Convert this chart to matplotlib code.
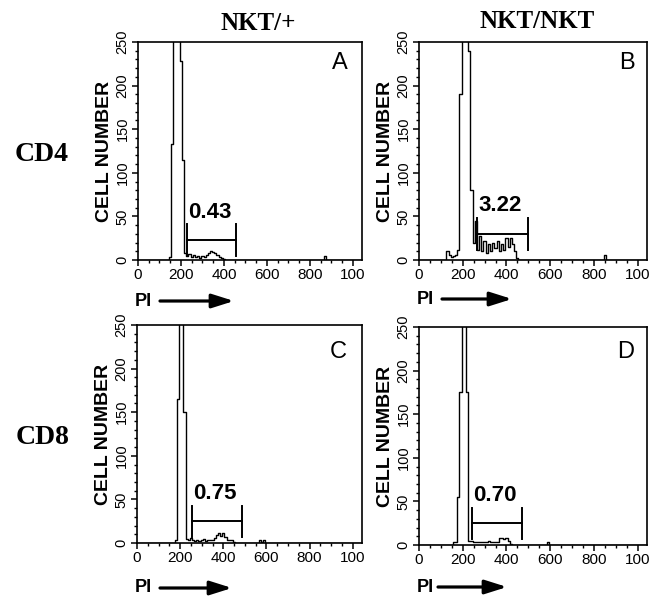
import numpy as np
import matplotlib
matplotlib.use("Agg")
import matplotlib.pyplot as plt
from matplotlib.ticker import MultipleLocator, FixedLocator, FixedFormatter

plt.rcParams['font.family'] = ['Liberation Sans', 'DejaVu Sans']

# ---- data (PI channel bins, cell counts) ----
pi_A = [140, 150, 160, 170, 180, 190, 200, 210, 220, 230, 240, 250, 260, 270, 280, 290, 300,
        310, 320, 330, 340, 350, 360, 370, 380, 390, 400, 410, 860, 870, 880]
count_A = [0, 4, 133, 400, 400, 400, 228, 115, 8, 5, 7, 4, 6, 3, 5, 2, 5,
           3, 6, 8, 10, 9, 8, 6, 3, 2, 1, 0, 0, 5, 0]

pi_B = [110, 120, 130, 140, 150, 160, 170, 180, 190, 200, 210, 220, 230, 240, 250, 260, 270,
        280, 290, 300, 310, 320, 330, 340, 350, 360, 370, 380, 390, 400, 410, 420, 430, 440,
        450, 460, 840, 850, 860]
count_B = [0, 0, 10, 6, 4, 5, 6, 12, 190, 400, 400, 400, 240, 80, 20, 45, 12,
           28, 10, 22, 8, 18, 10, 20, 14, 22, 10, 18, 12, 25, 15, 25, 18, 10,
           2, 0, 0, 6, 0]

pi_C = [170, 180, 190, 200, 210, 220, 230, 240, 250, 260, 270, 280, 290, 300, 310, 320, 330,
        340, 350, 360, 370, 380, 390, 400, 410, 420, 430, 440, 450, 460, 560, 570, 580, 590, 600]
count_C = [0, 3, 165, 400, 400, 150, 5, 3, 6, 3, 2, 4, 2, 3, 5, 2, 3,
           3, 4, 6, 9, 11, 8, 11, 7, 3, 3, 3, 1, 0, 0, 3, 1, 3, 0]

pi_D = [150, 160, 170, 180, 190, 200, 210, 220, 230, 240, 250, 260, 270, 280, 290, 300, 310,
        320, 330, 340, 350, 360, 370, 380, 390, 400, 410, 420, 430, 580, 590, 600]
count_D = [0, 3, 3, 55, 175, 400, 400, 175, 5, 5, 4, 3, 3, 3, 3, 3, 3,
           5, 3, 3, 3, 4, 8, 8, 7, 8, 5, 1, 0, 0, 3, 0]

gate_A = (228, 457, 23, "0.43")
gate_B = (264, 497, 30, "3.22")
gate_C = (255, 485, 25, "0.75")
gate_D = (241, 471, 25, "0.70")

panel_letters = ["A", "B", "C", "D"]
col_titles = ["NKT/+", "NKT/NKT"]
row_titles = ["CD4", "CD8"]
xtick_vals = [0, 200, 400, 600, 800, 1000]
xtick_labels = ["0", "200", "400", "600", "800", "100"]
ytick_vals = [0, 50, 100, 150, 200, 250]

W, H = 661, 596
fig = plt.figure(figsize=(W / 100, H / 100), dpi=100)

# axes boxes in pixels: left, top, right, bottom
boxes = [(138, 42, 362, 260), (419, 42, 647, 260),
         (137, 325, 362, 543), (419, 327, 647, 545)]
datasets = [(pi_A, count_A), (pi_B, count_B), (pi_C, count_C), (pi_D, count_D)]
gates = [gate_A, gate_B, gate_C, gate_D]
label_pos = [(940, 226), (950, 226), (935, 219), (945, 221)]

bins = np.arange(0, 1050, 10)
for i, ((l, t, r, b), (px, cnt), gate, letter) in enumerate(zip(boxes, datasets, gates, panel_letters)):
    ax = fig.add_axes([l / W, 1 - b / H, (r - l) / W, (b - t) / H])
    full = np.zeros_like(bins, dtype=float)
    for xv, cv in zip(px, cnt):
        full[np.searchsorted(bins, xv)] = cv
    ax.step(bins, full, where='mid', color='black', lw=1.0, clip_on=True)
    ax.set_xlim(0, 1043)
    ax.set_ylim(0, 250)
    for s in ax.spines.values():
        s.set_linewidth(1.2)
    ax.xaxis.set_major_locator(FixedLocator(xtick_vals))
    ax.xaxis.set_major_formatter(FixedFormatter(xtick_labels))
    ax.xaxis.set_minor_locator(MultipleLocator(50))
    ax.yaxis.set_major_locator(FixedLocator(ytick_vals))
    ax.yaxis.set_minor_locator(MultipleLocator(10))
    ax.tick_params(axis='both', which='major', direction='out', length=4, width=1.1)
    ax.tick_params(axis='both', which='minor', direction='out', length=2.5, width=1.0)
    ax.tick_params(axis='x', labelsize=11, pad=2)
    ax.tick_params(axis='y', labelsize=10.5, pad=2)
    for lab in ax.get_yticklabels():
        lab.set_rotation(90)
        lab.set_va('center')
    ax.set_ylabel("CELL NUMBER", fontsize=14, fontweight='bold', labelpad=2)
    x0, x1, gy, gtxt = gate
    ax.plot([x0, x1], [gy, gy], color='black', lw=1.4)
    ax.plot([x0, x0], [gy - 18, gy + 18], color='black', lw=1.4)
    ax.plot([x1, x1], [gy - 18, gy + 18], color='black', lw=1.4)
    ax.text((x0 + x1) / 2 - 8, gy + 20, gtxt, ha='center', va='bottom',
            fontsize=16, fontweight='bold')
    lx, ly = label_pos[i]
    ax.text(lx, ly, letter, ha='center', va='center', fontsize=17)

# column / row titles
serif = ['Liberation Serif', 'DejaVu Serif']
fig.text(258 / W, 1 - 23 / H, col_titles[0], ha='center', va='center',
         fontsize=18, fontweight='bold', family=serif)
fig.text(537 / W, 1 - 22 / H, col_titles[1], ha='center', va='center',
         fontsize=18, fontweight='bold', family=serif)
fig.text(42 / W, 1 - 155 / H, row_titles[0], ha='center', va='center',
         fontsize=20, fontweight='bold', family=serif)
fig.text(43 / W, 1 - 438 / H, row_titles[1], ha='center', va='center',
         fontsize=20, fontweight='bold', family=serif)

# PI arrows
pi_positions = [(135, 160, 234, 301), (417, 442, 512, 299),
                (135, 160, 232, 588), (417, 438, 507, 587)]
for tx, a0, a1, yy in pi_positions:
    fig.text(tx / W, 1 - yy / H, "PI", ha='left', va='center', fontsize=13, fontweight='bold')
    fig.add_artist(matplotlib.patches.FancyArrowPatch(
        (a0 / W, 1 - yy / H), (a1 / W, 1 - yy / H), transform=fig.transFigure,
        arrowstyle='-|>,head_length=0.95,head_width=0.3', mutation_scale=14,
        lw=2.3, color='black', shrinkA=0, shrinkB=0))

fig.savefig("out.png", dpi=100)
